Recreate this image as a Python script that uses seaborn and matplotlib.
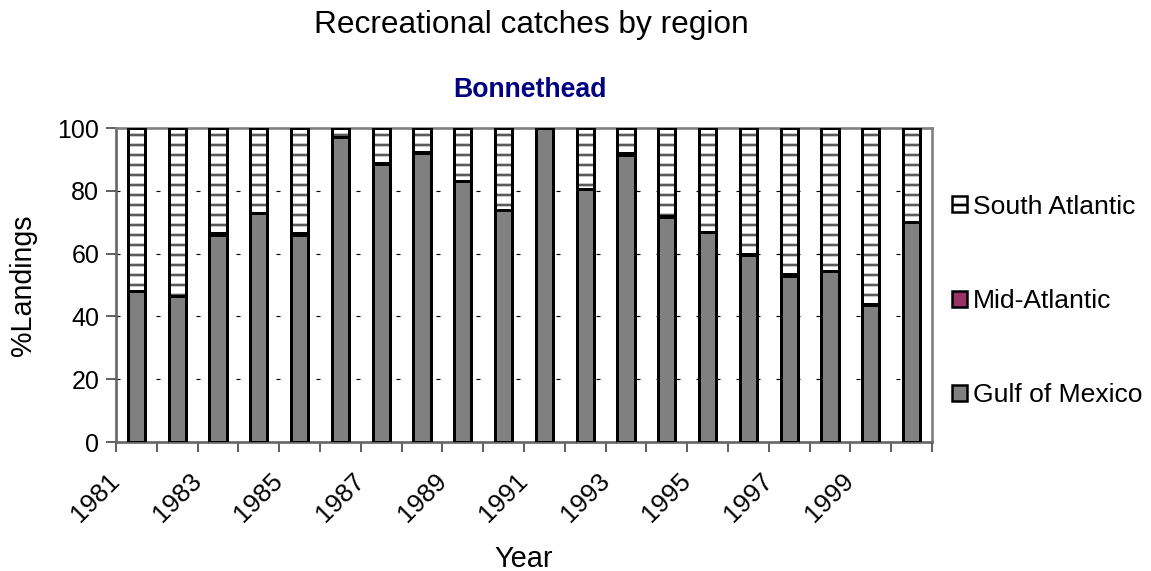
import matplotlib
matplotlib.use("Agg")
import matplotlib.pyplot as plt
import matplotlib.transforms as mtransforms
from matplotlib.patches import Patch
import numpy as np
import pandas as pd
import seaborn as sns

# ---- data ----
years = [str(y) for y in range(1981, 2001)]
gulf_of_mexico = [48, 46.5, 66, 73, 66, 97, 88.5, 92, 83, 74,
                  100, 80.5, 91.5, 71.5, 67, 59.5, 53, 54.5, 43.5, 70]
mid_atlantic = [0, 0, 0.5, 0, 0.5, 0, 0.5, 0.5, 0, 0,
                0, 0, 0.5, 0.5, 0, 0.5, 0.5, 0, 0.5, 0]
south_atlantic = [100 - g - m for g, m in zip(gulf_of_mexico, mid_atlantic)]
tick_labels = ["1981", "1983", "1985", "1987", "1989", "1991", "1993", "1995", "1997", "1999"]
y_ticks = [0, 20, 40, 60, 80, 100]

df = pd.DataFrame({"year": years, "gulf": gulf_of_mexico,
                   "mid": mid_atlantic, "south": south_atlantic})
df["gulf_mid"] = df["gulf"] + df["mid"]
df["total"] = df["gulf_mid"] + df["south"]

sns.set_theme(style="white")
plt.rcParams["font.family"] = ["Liberation Sans", "DejaVu Sans"]
plt.rcParams["hatch.linewidth"] = 1.6
plt.rcParams["lines.scale_dashes"] = False
for k in ["text.color", "axes.labelcolor", "xtick.color", "ytick.color"]:
    plt.rcParams[k] = "black"

DPI = 120
fig = plt.figure(figsize=(1151 / DPI, 571 / DPI), dpi=DPI)
ax = fig.add_axes([116 / 1151, 1 - 442 / 571, (932 - 116) / 1151, (442 - 128) / 571])

GRAY = "#808080"
PLUM = "#993366"
BW = 0.42
ELW = 1.8

# grid lines
for v in y_ticks[1:-1]:
    ax.axhline(v, color="black", lw=0.7, ls=(0, (2.4, 9.6)), zorder=0)

# layer 1: hatched full bars (South Atlantic on top)
sns.barplot(data=df, x="year", y="total", color="white", width=BW,
            edgecolor="#5a5a5a", linewidth=0, hatch="--", ax=ax, zorder=1)
# layer 2: Mid-Atlantic
sns.barplot(data=df, x="year", y="gulf_mid", color=PLUM, saturation=1, width=BW,
            edgecolor="black", linewidth=ELW, ax=ax, zorder=2)
# layer 3: Gulf of Mexico
sns.barplot(data=df, x="year", y="gulf", color=GRAY, saturation=1, width=BW,
            edgecolor="black", linewidth=ELW, ax=ax, zorder=3)
# layer 4: outline of total
sns.barplot(data=df, x="year", y="total", fill=False, width=BW,
            edgecolor="black", linewidth=ELW, ax=ax, zorder=4)

ax.set_xlim(-0.5, len(years) - 0.5)
ax.set_ylim(0, 100)
ax.set_yticks(y_ticks)
ax.set_yticklabels([str(v) for v in y_ticks], fontsize=15)

bounds = np.arange(len(years) + 1) - 0.5
ax.set_xticks(bounds)
labs = []
for i in range(len(bounds)):
    labs.append(tick_labels[i // 2] if (i % 2 == 0 and i // 2 < len(tick_labels)) else "")
ax.set_xticklabels(labs, fontsize=15.5, rotation=45, ha="right", va="center",
                   rotation_mode="anchor")
offset = mtransforms.ScaledTranslation(9 / DPI, 0, fig.dpi_scale_trans)
for lab in ax.get_xticklabels():
    lab.set_transform(lab.get_transform() + offset)

ax.tick_params(axis="x", direction="out", length=6, width=1, color="#444444", pad=15, bottom=True)
ax.tick_params(axis="y", direction="out", length=6, width=1, color="#444444", pad=4, left=True)

for s in ["top", "right", "left", "bottom"]:
    ax.spines[s].set_color(GRAY)
    ax.spines[s].set_linewidth(1.6)
ax.spines["left"].set_color("#666666")
ax.spines["bottom"].set_color("#666666")

ax.set_xlabel("Year", fontsize=17.3, labelpad=11)
ax.set_ylabel("%Landings", fontsize=17.2, labelpad=12)
ax.grid(False)

fig.text(531 / 1151, 1 - 25 / 571, "Recreational catches by region",
         fontsize=19, ha="center", va="center")
fig.text(530 / 1151, 1 - 90 / 571, "Bonnethead", fontsize=16, fontweight="bold",
         color="#000080", ha="center", va="center")

handles = [Patch(facecolor="white", edgecolor="black", hatch="--", linewidth=1.5),
           Patch(facecolor=PLUM, edgecolor="black", linewidth=1.5),
           Patch(facecolor=GRAY, edgecolor="black", linewidth=1.5)]
fig.legend(handles, ["South Atlantic", "Mid-Atlantic", "Gulf of Mexico"],
           loc="center left", bbox_to_anchor=(952 / 1151, 1 - 301 / 571),
           frameon=False, fontsize=15.9, labelspacing=2.65, handlelength=0.55,
           handleheight=0.55, handletextpad=0.25, borderpad=0, borderaxespad=0)

fig.savefig("out.png", dpi=DPI)
